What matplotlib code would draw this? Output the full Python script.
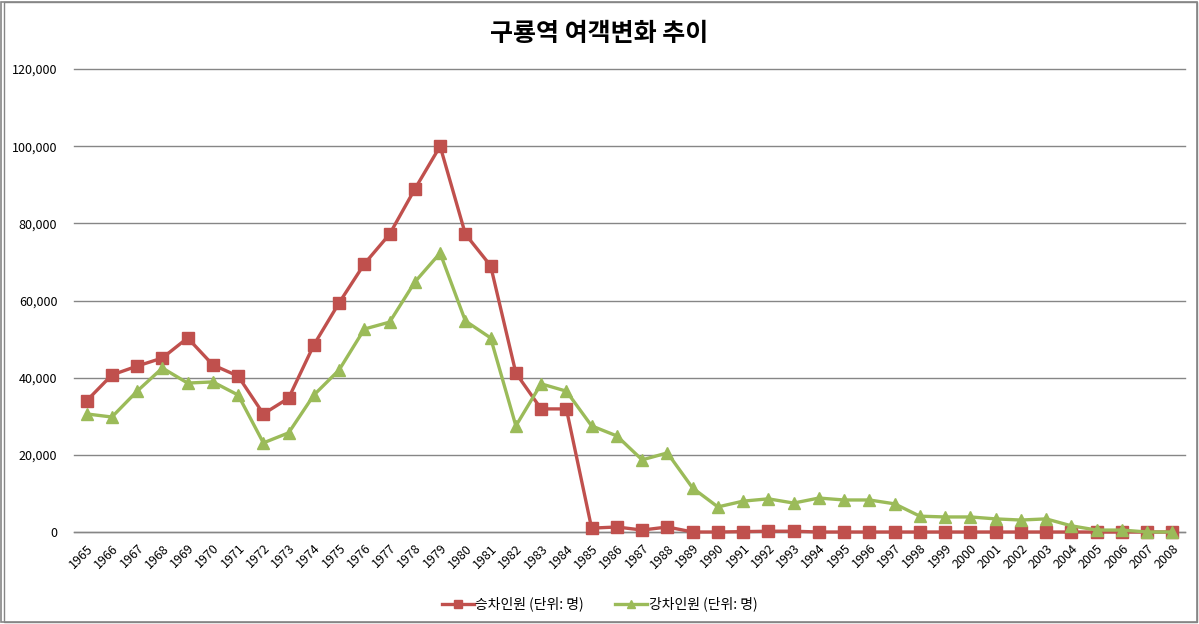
import matplotlib
matplotlib.use("Agg")
import matplotlib.pyplot as plt
from matplotlib.ticker import FuncFormatter, MultipleLocator
from matplotlib.patches import Rectangle

plt.rcParams['font.family'] = ['Noto Sans CJK KR', 'DejaVu Sans']

years = [str(y) for y in range(1965, 2009)]
boarding = [34000, 40700, 43000, 45100, 50300, 43300, 40400, 30600, 34700, 48500,
            59400, 69500, 77200, 88900, 100000, 77200, 69000, 41200, 31900, 31900,
            1000, 1300, 500, 1300, 0, 0, 100, 200, 200, 0,
            0, 0, 0, 0, 0, 0, 0, 0, 0, 0,
            0, 0, 0, 0]
alighting = [30600, 29800, 36500, 42500, 38600, 38900, 35500, 23100, 25700, 35500,
             42000, 52600, 54400, 64800, 72300, 54700, 50300, 27500, 38400, 36500,
             27500, 24900, 18700, 20500, 11400, 6500, 8000, 8600, 7500, 8800,
             8300, 8300, 7300, 4100, 3900, 3900, 3400, 3100, 3400, 1600,
             500, 500, 0, 0]
series_names = ['승차인원 (단위: 명)', '강차인원 (단위: 명)']
title = '구룡역 여객변화 추이'

fig = plt.figure(figsize=(11.99, 6.24), dpi=100)
ax = fig.add_axes([74/1199, 1-532/624, (1185-74)/1199, (532-69)/624])

x = list(range(len(years)))
ax.plot(x, boarding, color='#C0504D', lw=2.4, marker='s', ms=8.5,
        label=series_names[0], zorder=3, clip_on=False)
ax.plot(x, alighting, color='#9BBB59', lw=2.4, marker='^', ms=8.5,
        label=series_names[1], zorder=3, clip_on=False)

ax.set_xlim(-0.5, len(years) - 0.5)
ax.set_ylim(0, 120000)
ax.yaxis.set_major_locator(MultipleLocator(20000))
ax.yaxis.set_major_formatter(FuncFormatter(lambda v, p: f'{int(v):,}'))
ax.set_xticks(x)
ax.set_xticklabels(years, rotation=45, ha='right', rotation_mode='anchor', fontsize=9)
ax.tick_params(axis='y', labelsize=9, length=0, pad=12)
ax.tick_params(axis='x', length=0, pad=7)
ax.grid(axis='y', color='#868686', lw=1, clip_on=False)
ax.set_axisbelow(True)
for s in ax.spines.values():
    s.set_visible(False)
ax.spines['bottom'].set_visible(True)
ax.spines['bottom'].set_color('#868686')
ax.spines['bottom'].set_linewidth(1)

fig.text(0.5, 1-34/624, title, ha='center', va='center', fontsize=18, fontweight='bold')

leg = fig.legend(loc='center', bbox_to_anchor=(0.5, 1-604/624), ncol=2, frameon=False,
                 fontsize=10, handlelength=2.3, handletextpad=0.1, columnspacing=2.3,
                 markerscale=0.7)

fig.patches.append(Rectangle((1/1199, 2/624), 1196/1199, 620/624, transform=fig.transFigure,
                             fill=False, edgecolor='#868686', lw=1.2))
fig.patches.append(Rectangle((4/1199, 2/624), 1193/1199, 620/624, transform=fig.transFigure,
                             fill=False, edgecolor='#868686', lw=1.0))

fig.savefig('out.png', dpi=100)
